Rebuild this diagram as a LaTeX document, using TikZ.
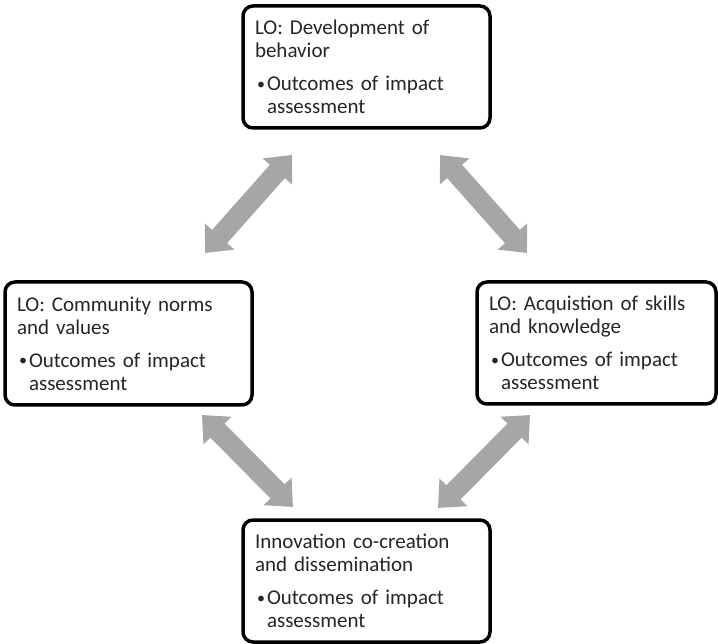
\documentclass[tikz,border=0pt]{standalone}
\usepackage{fontspec}
\setmainfont{Carlito}
\usetikzlibrary{arrows.meta}
\definecolor{arrowgray}{HTML}{A6A6A6}
\definecolor{txt}{HTML}{262626}
\tikzset{
  lobox/.style={draw=black, line width=3.5pt, rounded corners=10pt, fill=white,
    align=left, text=txt, inner xsep=11pt, inner ysep=4pt,
    font=\fontsize{21}{23}\selectfont},
  twoway/.style={draw=arrowgray, line width=20pt,
    {Triangle[width=38pt,length=22pt]}-{Triangle[width=38pt,length=22pt]}}
}
\newcommand{\bulitem}[2]{\hspace*{2pt}\makebox[10pt][l]{\raisebox{1.5pt}{\fontsize{16}{16}\selectfont\textbullet}}#1\\\hspace*{12pt}#2}
\begin{document}
\begin{tikzpicture}[x=1pt,y=-1pt]
\useasboundingbox (0,0) rectangle (718,644);
% boxes
\node[lobox, minimum width=247pt, minimum height=122pt, text width=223pt] (top) at (366.5,67)
  {LO: Development of\\behavior\\[10pt]\bulitem{Outcomes of impact}{assessment}};
\node[lobox, minimum width=247pt, minimum height=123pt, text width=223pt] (left) at (128.5,343.5)
  {LO: Community norms\\and values\\[10pt]\bulitem{Outcomes of impact}{assessment}};
\node[lobox, minimum width=239pt, minimum height=122pt, text width=215pt] (right) at (596.5,343)
  {LO: Acquistion of skills\\and knowledge\\[10pt]\bulitem{Outcomes of impact}{assessment}};
\node[lobox, minimum width=247pt, minimum height=122pt, text width=223pt] (bottom) at (366.5,581)
  {Innovation co-creation\\and dissemination\\[10pt]\bulitem{Outcomes of impact}{assessment}};
% arrow end points
\coordinate (tlA) at (292,155); \coordinate (tlB) at (205,253);
\coordinate (trA) at (440,155); \coordinate (trB) at (527,253);
\coordinate (blA) at (202,415); \coordinate (blB) at (293,507);
\coordinate (brA) at (530,415); \coordinate (brB) at (438,508);
\draw[twoway] (tlA) -- (tlB);
\draw[twoway] (trA) -- (trB);
\draw[twoway] (blA) -- (blB);
\draw[twoway] (brA) -- (brB);
\end{tikzpicture}
\end{document}
